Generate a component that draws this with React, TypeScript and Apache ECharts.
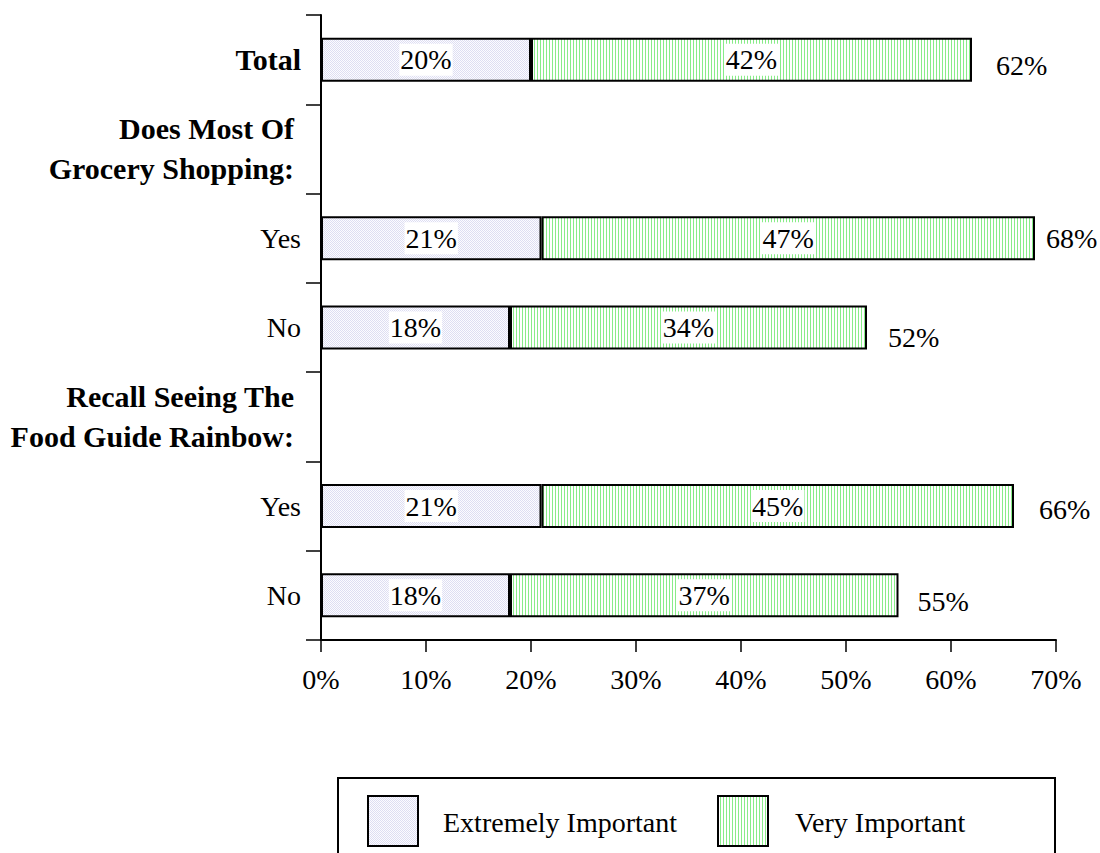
import React, { useEffect, useRef } from "react";
import * as echarts from "echarts";

const categories = [
  "Total",
  "Does Most Of\nGrocery Shopping:",
  "Yes",
  "No",
  "Recall Seeing The\nFood Guide Rainbow:",
  "Yes",
  "No",
];
const rowKinds = ["total", "header", "item", "item", "header", "item", "item"];
const extremelyImportant = [20, null, 21, 18, null, 21, 18];
const veryImportant = [42, null, 47, 34, null, 45, 37];
const totals = [62, null, 68, 52, null, 66, 55];
const seriesNames = ["Extremely Important", "Very Important"];
const xMin = 0;
const xMax = 70;
const xInterval = 10;

// label nudges for the totals (styling, not data)
const totalLabelOffsets: Record<number, [number, number]> = {
  0: [24, 6],
  2: [11, 0],
  3: [21, 10],
  5: [25, 3],
  6: [19, 6],
};

const FONT = '"Liberation Serif", "Times New Roman", serif';
const FS = 28;
const FSB = 30;

function makeDots() {
  const c = document.createElement("canvas");
  c.width = 2;
  c.height = 2;
  const ctx = c.getContext("2d")!;
  ctx.fillStyle = "#fcfcff";
  ctx.fillRect(0, 0, 2, 2);
  ctx.fillStyle = "#dedef2";
  ctx.fillRect(0, 0, 1, 1);
  ctx.fillRect(1, 1, 1, 1);
  return c;
}
function makeStripes() {
  const c = document.createElement("canvas");
  c.width = 3;
  c.height = 3;
  const ctx = c.getContext("2d")!;
  ctx.fillStyle = "#ffffff";
  ctx.fillRect(0, 0, 3, 3);
  ctx.fillStyle = "#88ec88";
  ctx.fillRect(0, 0, 1, 3);
  return c;
}

export default function App() {
  const ref = useRef<HTMLDivElement>(null);
  useEffect(() => {
    if (!ref.current) return;
    const chart = echarts.init(ref.current, null, { renderer: "svg" });
    const dots = { image: makeDots(), repeat: "repeat" } as any;
    const stripes = { image: makeStripes(), repeat: "repeat" } as any;

    const innerLabel = {
      show: true,
      position: "inside",
      formatter: "{c}%",
      color: "#000",
      fontSize: FS,
      fontFamily: FONT,
      backgroundColor: "#ffffff",
      padding: [3, 1, 1, 1],
    };

    const totalData = totals
      .map((v, i) =>
        v == null
          ? null
          : {
              value: [v, i],
              label: { offset: totalLabelOffsets[i] || [15, 0] },
            }
      )
      .filter((d) => d != null);

    const option: any = {
      animation: false,
      backgroundColor: "#ffffff",
      grid: { left: 321, top: 15, width: 735, height: 625, containLabel: false },
      xAxis: {
        type: "value",
        min: xMin,
        max: xMax,
        interval: xInterval,
        splitLine: { show: false },
        axisLine: { show: true, lineStyle: { color: "#000", width: 2 } },
        axisTick: { show: true, length: 12, lineStyle: { color: "#000", width: 1.5 } },
        axisLabel: {
          formatter: "{value}%",
          color: "#000",
          fontSize: FS,
          fontFamily: FONT,
          margin: 25,
        },
      },
      yAxis: {
        type: "category",
        inverse: true,
        data: categories,
        axisLine: { show: true, lineStyle: { color: "#000", width: 2 } },
        axisTick: { show: true, length: 15, inside: false, lineStyle: { color: "#000", width: 1.5 } },
        axisLabel: {
          color: "#000",
          fontSize: FS,
          fontFamily: FONT,
          margin: 20,
          formatter: (value: string, index: number) => {
            const kind = rowKinds[index];
            if (kind === "total") return "{t|" + value + "}";
            if (kind === "header") {
              return value
                .split("\n")
                .map((l) => "{h|" + l + "}")
                .join("\n");
            }
            return value;
          },
          rich: {
            t: {
              fontWeight: "bold",
              fontSize: FSB,
              fontFamily: FONT,
              color: "#000",
            },
            h: {
              fontWeight: "bold",
              fontSize: FSB,
              fontFamily: FONT,
              color: "#000",
              lineHeight: 40,
              align: "right",
              padding: [0, 7, 0, 0],
            },
          },
        },
      },
      series: [
        {
          name: seriesNames[0],
          type: "bar",
          stack: "a",
          barWidth: 44,
          data: extremelyImportant,
          itemStyle: { color: dots, borderColor: "#000", borderWidth: 2 },
          label: innerLabel,
        },
        {
          name: seriesNames[1],
          type: "bar",
          stack: "a",
          barWidth: 44,
          data: veryImportant,
          itemStyle: { color: stripes, borderColor: "#000", borderWidth: 2 },
          label: innerLabel,
        },
        {
          name: "Total",
          type: "scatter",
          symbolSize: 0,
          data: totalData,
          silent: true,
          itemStyle: { opacity: 1, color: "#000" },
          label: {
            show: true,
            position: "right",
            distance: 0,
            formatter: (p: any) => p.value[0] + "%",
            color: "#000",
            opacity: 1,
            fontSize: FS,
            fontFamily: FONT,
          },
        },
      ],
      graphic: [
        {
          type: "rect",
          shape: { x: 338, y: 778, width: 717, height: 120 },
          style: { fill: "#fff", stroke: "#000", lineWidth: 2 },
        },
        {
          type: "rect",
          shape: { x: 368, y: 796, width: 50, height: 50 },
          style: { fill: dots, stroke: "#000", lineWidth: 2 },
        },
        {
          type: "text",
          x: 443,
          y: 822,
          style: {
            text: seriesNames[0],
            fill: "#000",
            fontSize: FS,
            fontFamily: FONT,
            verticalAlign: "middle",
            align: "left",
          },
        },
        {
          type: "rect",
          shape: { x: 718, y: 796, width: 50, height: 50 },
          style: { fill: stripes, stroke: "#000", lineWidth: 2 },
        },
        {
          type: "text",
          x: 795,
          y: 822,
          style: {
            text: seriesNames[1],
            fill: "#000",
            fontSize: FS,
            fontFamily: FONT,
            verticalAlign: "middle",
            align: "left",
          },
        },
      ],
    };
    chart.setOption(option);
    return () => chart.dispose();
  }, []);
  return (
    <div
      ref={ref}
      style={{ position: "absolute", left: 0, top: 0, width: 1100, height: 853 }}
    />
  );
}
